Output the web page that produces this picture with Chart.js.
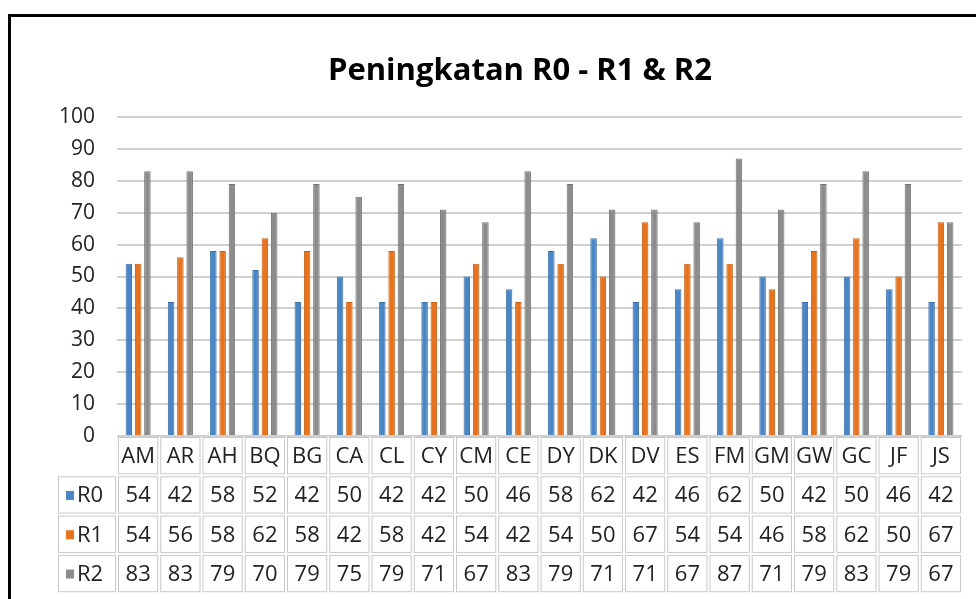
<!DOCTYPE html>
<html>
<head>
<meta charset="utf-8">
<script src="https://cdn.jsdelivr.net/npm/chart.js@4"></script>
<style>
    html, body { margin: 0; padding: 0; background: #fff; overflow: hidden; }
</style>
</head>
<body>
<canvas id="myChart" width="976" height="599"></canvas>
<script>
const labels = ['AM', 'AR', 'AH', 'BQ', 'BG', 'CA', 'CL', 'CY', 'CM', 'CE', 'DY', 'DK', 'DV', 'ES', 'FM', 'GM', 'GW', 'GC', 'JF', 'JS'];
const r0Values = [54, 42, 58, 52, 42, 50, 42, 42, 50, 46, 58, 62, 42, 46, 62, 50, 42, 50, 46, 42];
const r1Values = [54, 56, 58, 62, 58, 42, 58, 42, 54, 42, 54, 50, 67, 54, 54, 46, 58, 62, 50, 67];
const r2Values = [83, 83, 79, 70, 79, 75, 79, 71, 67, 83, 79, 71, 71, 67, 87, 71, 79, 83, 79, 67];
const chartTitle = 'Peningkatan R0 - R1 & R2';

const font = '"Open Sans", "DejaVu Sans", sans-serif';

// outer black frame + title
const framePlugin = {
    id: 'frame',
    beforeDraw(chart) {
        const ctx = chart.ctx;
        ctx.save();
        ctx.fillStyle = '#fff';
        ctx.fillRect(0, 0, chart.width, chart.height);
        ctx.fillStyle = '#000';
        ctx.fillRect(8, 14, chart.width, 3);
        ctx.fillRect(8, 14, 3, chart.height);
        ctx.font = 'bold 31px ' + font;
        ctx.textAlign = 'center';
        ctx.textBaseline = 'middle';
        ctx.fillText(chartTitle, 520, 71);
        ctx.restore();
    }
};

// data table under the plot
const tablePlugin = {
    id: 'dataTable',
    afterDraw(chart) {
        const { ctx, chartArea, scales: { x } } = chart;
        const colW = (chartArea.right - chartArea.left) / labels.length;
        const rowH = 39.3;
        const top = chartArea.bottom;
        const legendLeft = 57;

        function cell(cx, cy, w, h) {
            ctx.strokeRect(cx + 1.5, cy + 1.5, w - 3, h - 3);
        }

        ctx.save();
        ctx.strokeStyle = '#c8c8c8';
        ctx.lineWidth = 1;
        ctx.font = '22px ' + font;
        ctx.textBaseline = 'middle';

        labels.forEach((lab, i) => {
            const cx = x.getPixelForValue(i);
            cell(cx - colW / 2, top, colW, rowH);
            ctx.fillStyle = '#222';
            ctx.textAlign = 'center';
            ctx.fillText(lab, cx, top + rowH / 2 + 1);
        });

        chart.data.datasets.forEach((ds, r) => {
            const y = top + rowH * (r + 1);
            cell(legendLeft, y, chartArea.left - legendLeft, rowH);
            ctx.fillStyle = ds.backgroundColor;
            ctx.fillRect(66, y + rowH / 2 - 4, 8, 9);
            ctx.fillStyle = '#222';
            ctx.textAlign = 'left';
            ctx.fillText(ds.label, 77, y + rowH / 2 + 1);
            ctx.textAlign = 'center';
            ds.data.forEach((v, i) => {
                const cx = x.getPixelForValue(i);
                cell(cx - colW / 2, y, colW, rowH);
                ctx.fillText(String(v), cx, y + rowH / 2 + 1);
            });
        });
        ctx.restore();
    }
};

const ctx = document.getElementById('myChart').getContext('2d');
const myChart = new Chart(ctx, {
    type: 'bar',
    data: {
        labels: labels,
        datasets: [{
            label: 'R0',
            data: r0Values,
            backgroundColor: '#4a86c6',
            borderColor: '#3b6fa8',
            borderWidth: 1
        }, {
            label: 'R1',
            data: r1Values,
            backgroundColor: '#e8731e',
            borderColor: '#c45f14',
            borderWidth: 1
        }, {
            label: 'R2',
            data: r2Values,
            backgroundColor: '#8c8c8c',
            borderColor: '#737373',
            borderWidth: 1
        }]
    },
    options: {
        responsive: false,
        animation: false,
        categoryPercentage: 0.66,
        barPercentage: 0.7,
        layout: { padding: { top: 117, right: 14, bottom: 163, left: 0 } },
        plugins: {
            legend: { display: false },
            title: { display: false },
            tooltip: { enabled: false }
        },
        scales: {
            x: { display: false },
            y: {
                min: 0,
                max: 100,
                ticks: { stepSize: 10, padding: 22, color: '#222', font: { family: font, size: 21 } },
                grid: { color: '#d0d0d0', lineWidth: 2, drawTicks: false },
                border: { display: false },
                afterFit(scale) { scale.width = 117; }
            }
        }
    },
    plugins: [framePlugin, tablePlugin]
});
</script>
</body>
</html>
